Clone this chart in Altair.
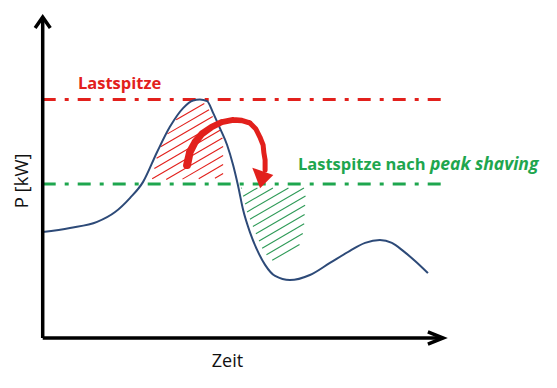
import altair as alt
import pandas as pd

# ---- data (Zeit in % of axis length, P in % of axis height) ----
zeit = [0, 6.8, 13.6, 18.1, 21.8, 25.1, 28.6, 31.8, 35.1, 37.6, 39.3, 41.1, 42.6,
        44.3, 46.1, 47.6, 48.8, 50.1, 51.8, 53.6, 55.6, 58.1, 61.8, 66.8, 71.8,
        76.8, 80.6, 84.3, 87.3, 90.1, 93.1, 96.3]
leistung = [33.3, 34.6, 36.5, 39.6, 44.0, 49.1, 58.5, 66.4, 72.3, 74.7, 75.0, 74.5, 70.8,
            66.0, 60.7, 54.4, 48.1, 40.3, 33.3, 27.7, 23.0, 19.5, 18.2, 19.8, 23.6,
            27.4, 29.9, 30.8, 29.9, 27.4, 24.2, 20.4]

lastspitze = 75.0
lastspitze_neu = 48.4
linien_ende = 99.5

# shaded (hatched) regions
rot_t = [27.3, 28.8, 32.1, 35.3, 37.8, 39.3, 40.8, 42.3, 44.3, 45.1, 45.1]
rot_p = [49.7, 58.5, 66.4, 72.0, 73.9, 74.2, 73.6, 70.1, 65.4, 62.3, 50.3]
gruen_t = [49.6, 65.8, 65.3, 63.8, 57.8, 55.3, 53.1, 51.1]
gruen_p = [47.2, 47.2, 34.0, 27.7, 23.9, 27.0, 33.3, 39.6]

# curved arrow (shift of the peak)
pfeil_t = [36.1, 36.8, 38.1, 39.8, 42.3, 44.8, 47.6, 49.8, 51.8, 53.3, 54.3, 55.1,
           55.3, 55.6, 55.6]
pfeil_p = [54.4, 58.5, 61.6, 64.2, 66.4, 67.9, 68.6, 68.4, 67.6, 65.7, 63.2, 60.7,
           58.2, 56.0, 52.8]
pfeil_w = [8, 7.6, 7.2, 6.8, 6.4, 6.0, 5.7, 5.4, 5.2, 5.0, 5.0, 5.0, 5.0, 5.0, 5.0]
spitze_t = [54.8]
spitze_p = [50.9]

# ---- scales: view covers the whole page ----
XMIN, XMAX = -8.675, 126.575
YMIN, YMAX = -13.208, 103.774
xs = alt.Scale(domain=[XMIN, XMAX], nice=False, zero=False)
ys = alt.Scale(domain=[YMIN, YMAX], nice=False, zero=False)

RED = "#e2201c"
GREEN = "#1ea64e"
BLUE = "#2d4a78"
FONT = "Open Sans"


def X(f="t"):
    return alt.X(f"{f}:Q", scale=xs, axis=None)


def Y(f="p"):
    return alt.Y(f"{f}:Q", scale=ys, axis=None)


def hatch(ts, ps, slope=0.73, step=2.83):
    """hatch lines clipped to the polygon (ts, ps)"""
    n = len(ts)
    cs = [p - slope * t for t, p in zip(ts, ps)]
    cmin, cmax = min(cs), max(cs)
    rows = []
    c = cmin + step * 0.5
    while c < cmax:
        hits = []
        for i in range(n):
            t1, p1 = ts[i], ps[i]
            t2, p2 = ts[(i + 1) % n], ps[(i + 1) % n]
            f1 = p1 - slope * t1 - c
            f2 = p2 - slope * t2 - c
            if (f1 > 0) != (f2 > 0):
                a = f1 / (f1 - f2)
                hits.append(t1 + a * (t2 - t1))
        hits.sort()
        for j in range(0, len(hits) - 1, 2):
            rows.append({"t": hits[j], "t2": hits[j + 1],
                         "p": slope * hits[j] + c, "p2": slope * hits[j + 1] + c})
        c += step
    return pd.DataFrame(rows)


curve = pd.DataFrame({"t": zeit, "p": leistung})
lines = pd.DataFrame({"t": [0, 0], "t2": [linien_ende, linien_ende],
                      "p": [lastspitze, lastspitze_neu], "c": ["rot", "gruen"]})

dash = [13, 9, 4, 9]
red_line = alt.Chart(lines[lines.c == "rot"]).mark_rule(
    color=RED, strokeWidth=3, strokeDash=dash).encode(x=X(), x2="t2", y=Y())
green_line = alt.Chart(lines[lines.c == "gruen"]).mark_rule(
    color=GREEN, strokeWidth=3, strokeDash=dash).encode(x=X(), x2="t2", y=Y())

red_hatch = alt.Chart(hatch(rot_t, rot_p)).mark_rule(
    color=RED, strokeWidth=1.1).encode(x=X(), x2="t2", y=Y(), y2="p2")
green_hatch = alt.Chart(hatch(gruen_t, gruen_p)).mark_rule(
    color="#2e9a57", strokeWidth=1.1).encode(x=X(), x2="t2", y=Y(), y2="p2")

curve_layer = alt.Chart(curve).mark_line(
    color=BLUE, strokeWidth=2, interpolate="monotone").encode(x=X(), y=Y())

arrow_df = pd.DataFrame({"t": pfeil_t, "p": pfeil_p, "w": pfeil_w,
                         "i": list(range(len(pfeil_t)))})
arrow_body = alt.Chart(arrow_df).mark_trail(color=RED).encode(
    x=X(), y=Y(), size=alt.Size("w:Q", scale=None, legend=None),
    order=alt.Order("i:Q"))
arrow_head = alt.Chart(pd.DataFrame({"t": spitze_t, "p": spitze_p})).mark_point(
    shape="M-0.8,-0.7L0.95,-0.1L-0.15,1.0Z", size=576, filled=True,
    color=RED, opacity=1).encode(x=X(), y=Y())

# axes with arrow heads
axes_df = pd.DataFrame({"t": [0, 0], "p": [0, 0], "t2": [100.1, 0], "p2": [0, 100.9]})
axes = alt.Chart(axes_df).mark_rule(color="black", strokeWidth=3.5).encode(
    x=X(), y=Y(), x2="t2", y2="p2")
chev_df = pd.DataFrame({
    "t": [96.3, 100.1, 96.3, -1.9, 0, 1.9],
    "p": [1.9, 0, -1.9, 97.5, 100.9, 97.5],
    "g": ["x", "x", "x", "y", "y", "y"],
    "i": [0, 1, 2, 0, 1, 2]})
chevrons = alt.Chart(chev_df).mark_line(color="black", strokeWidth=3.5,
                                        strokeJoin="miter").encode(
    x=X(), y=Y(), detail="g:N", order=alt.Order("i:Q"))


# texts
def txt(t, p, s, **kw):
    return alt.Chart(pd.DataFrame({"t": [t], "p": [p], "s": [s]})).mark_text(
        font=FONT, **kw).encode(x=X(), y=Y(), text="s:N")


t_red = txt(8.8, 78.3, "Lastspitze", color=RED, fontSize=16.5, fontWeight="bold",
            align="left", baseline="alphabetic")
t_green1 = txt(63.8, 52.8, "Lastspitze nach", color=GREEN, fontSize=16.5,
               fontWeight="bold", align="left", baseline="alphabetic")
t_green2 = txt(96.8, 52.8, "peak shaving", color=GREEN, fontSize=17.5,
               fontWeight="bold", fontStyle="italic", align="left",
               baseline="alphabetic")
t_x = txt(46.2, -7.5, "Zeit", color="#111111", fontSize=18, align="center",
          baseline="middle")
t_y = txt(-5.3, 49.4, "P [kW]", color="#111111", fontSize=18.5, align="center",
          baseline="middle", angle=270)

chart = alt.layer(
    red_hatch, green_hatch, red_line, green_line, curve_layer,
    arrow_body, arrow_head, axes, chevrons,
    t_red, t_green1, t_green2, t_x, t_y
).properties(width=541, height=372, padding=0, autosize="none",
             background="white").configure_view(stroke=None)

chart.save("out.html", embed_options={"renderer": "svg", "actions": False})
